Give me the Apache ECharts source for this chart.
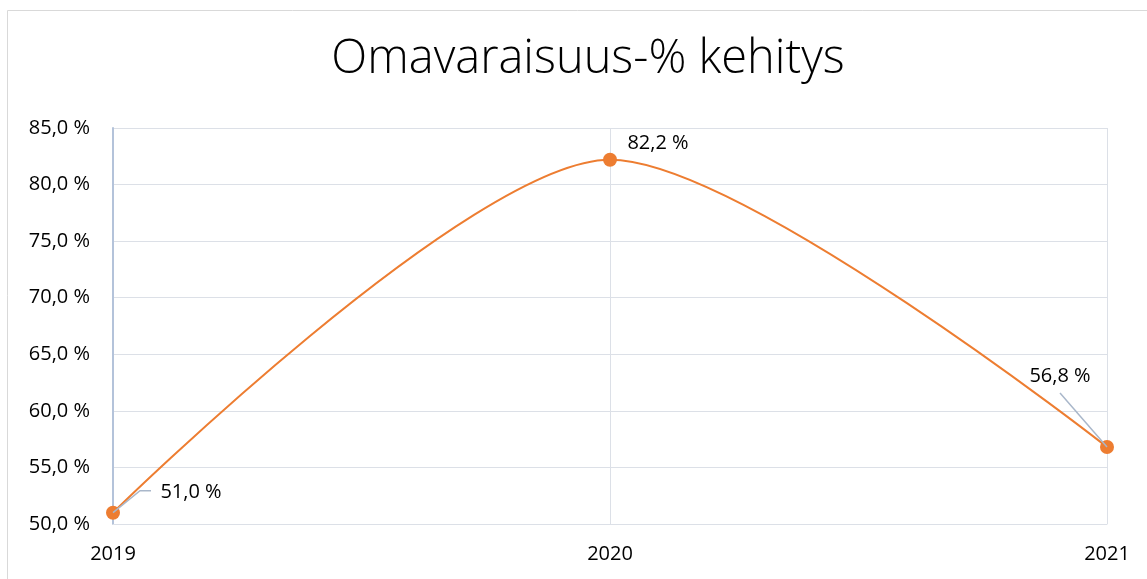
<!DOCTYPE html>
<html>
<head>
<meta charset="utf-8">
<script type="text/javascript" src="https://cdn.jsdelivr.net/npm/echarts@6/dist/echarts.min.js"></script>
<style>
  html, body { margin: 0; padding: 0; background: #fff; }
  #chart { width: 1147px; height: 579px; }
</style>
</head>
<body>
<div id="chart"></div>
<script>
// data
var years = ['2019', '2020', '2021'];
var equityRatio = [51.0, 82.2, 56.8];
var yTicks = [50, 55, 60, 65, 70, 75, 80, 85];

var fontName = 'Open Sans';
var leaderColor = '#A9B7CA';

function fmtPct(v) {
  return v.toFixed(1).replace('.', ',') + ' %';
}

// label moves (px)
var labelMoves = [
  { dx: 78, dy: 2 },
  { dx: 48, dy: 6 },
  { dx: -47, dy: -49 }
];

var chart = echarts.init(document.getElementById('chart'));
var option = {
  animation: false,
  graphic: [{
    type: 'rect',
    shape: { x: 7.5, y: 10.5, width: 1200, height: 600 },
    style: { fill: 'none', stroke: '#D9D9D9', lineWidth: 1 },
    silent: true
  }],
  title: {
    text: 'Omavaraisuus-% kehitys',
    left: 583,
    textAlign: 'center',
    top: 31,
    textStyle: {
      fontFamily: fontName,
      fontWeight: 300,
      fontSize: 47,
      color: '#000'
    }
  },
  grid: {
    left: 113,
    right: 40,
    top: 128,
    bottom: 55
  },
  xAxis: {
    type: 'category',
    data: years,
    boundaryGap: false,
    axisLine: { lineStyle: { color: '#DCE0E7' } },
    axisTick: { show: false },
    splitLine: { show: true, lineStyle: { color: '#DCE0E7', width: 1 } },
    axisLabel: {
      fontFamily: fontName,
      fontSize: 20,
      color: '#000',
      margin: 20
    }
  },
  yAxis: {
    type: 'value',
    min: yTicks[0],
    max: yTicks[yTicks.length - 1],
    interval: 5,
    axisLine: { show: true, lineStyle: { color: '#B4C3DA', width: 2 } },
    axisTick: { show: false },
    splitLine: { lineStyle: { color: '#DCE0E7', width: 1 } },
    axisLabel: {
      fontFamily: fontName,
      fontSize: 20,
      color: '#000',
      margin: 23,
      formatter: function (v) { return fmtPct(v); }
    }
  },
  series: [{
    type: 'line',
    data: equityRatio,
    smooth: 0.27,
    symbol: 'circle',
    symbolSize: 14,
    lineStyle: { color: '#ED7D31', width: 2 },
    itemStyle: { color: '#ED7D31' },
    label: {
      show: true,
      position: 'top',
      fontFamily: fontName,
      fontSize: 20,
      color: '#000',
      formatter: function (p) { return fmtPct(p.value); }
    },
    labelLayout: function (p) {
      return labelMoves[p.dataIndex];
    }
  }]
};
chart.setOption(option);

// leader lines for the first and last label, anchored at the data points
var pFirst = chart.convertToPixel({ gridIndex: 0 }, [0, equityRatio[0]]);
var pLast = chart.convertToPixel({ gridIndex: 0 }, [2, equityRatio[2]]);
chart.setOption({
  graphic: [
    option.graphic[0],
    {
      type: 'polyline',
      z: 10,
      silent: true,
      shape: { points: [pFirst, [pFirst[0] + 27, pFirst[1] - 22], [pFirst[0] + 38, pFirst[1] - 22]] },
      style: { stroke: leaderColor, lineWidth: 1.5, fill: null }
    },
    {
      type: 'polyline',
      z: 10,
      silent: true,
      shape: { points: [pLast, [pLast[0] - 47, pLast[1] - 54]] },
      style: { stroke: leaderColor, lineWidth: 1.5, fill: null }
    }
  ]
});
</script>
</body>
</html>
